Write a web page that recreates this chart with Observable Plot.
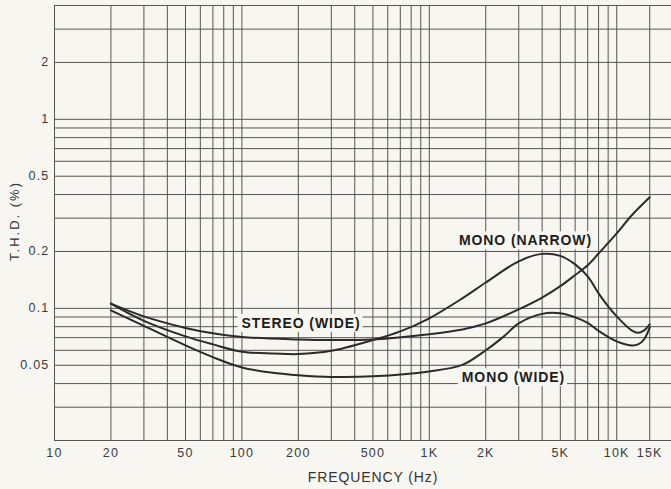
<!DOCTYPE html>
<html>
<head>
<meta charset="utf-8">
<script src="https://cdn.jsdelivr.net/npm/d3@7"></script>
<script src="https://cdn.jsdelivr.net/npm/@observablehq/plot@0.6"></script>
<style>
  html, body { margin: 0; padding: 0; background: #f8f6f1; }
</style>
</head>
<body>
<div id="chart"></div>
<script>
// Tick labels
const freqTicks = [10, 20, 50, 100, 200, 500, 1000, 2000, 5000, 10000, 15000];
const freqTickLabels = ["10", "20", "50", "100", "200", "500", "1K", "2K", "5K", "10K", "15K"];
const thdTicks = [0.05, 0.1, 0.2, 0.5, 1, 2];
const thdTickLabels = ["0.05", "0.1", "0.2", "0.5", "1", "2"];

// Graph-paper grid lines
const freqGrid = [10, 20, 30, 40, 50, 60, 70, 80, 90, 100, 200, 300, 400, 500, 600, 700, 800, 900, 1000,
  2000, 3000, 4000, 5000, 6000, 7000, 8000, 9000, 10000, 15000];
const thdGrid = [0.02, 0.03, 0.04, 0.05, 0.06, 0.07, 0.08, 0.09, 0.1, 0.2, 0.3, 0.4, 0.5, 0.6, 0.7, 0.8, 0.9, 1, 2, 3, 4];

// Series: STEREO (WIDE)
const stereoFreq = [20, 30, 50, 70, 100, 200, 300, 500, 1000, 1500, 2000, 3000, 4000, 5000, 6000, 7000, 8000, 10000, 12000, 15000];
const stereoThd = [0.106, 0.0907, 0.0788, 0.0738, 0.0705, 0.0685, 0.068, 0.0685, 0.073, 0.0774, 0.0833, 0.0988, 0.114, 0.131, 0.150, 0.169, 0.195, 0.249, 0.31, 0.387];

// Series: MONO (NARROW)
const narrowFreq = [20, 30, 50, 70, 100, 150, 200, 300, 500, 700, 1000, 1500, 2000, 3000, 4000, 5000, 6000, 7000, 8000, 9000, 10000, 12000, 13000, 14000, 15000];
const narrowThd = [0.106, 0.0859, 0.0711, 0.0645, 0.059, 0.0577, 0.0573, 0.0596, 0.068, 0.0755, 0.0886, 0.113, 0.137, 0.1773, 0.1942, 0.1896, 0.1709, 0.1477, 0.1201, 0.1025, 0.0907, 0.0765, 0.0742, 0.0765, 0.0823];

// Series: MONO (WIDE)
const wideFreq = [20, 30, 50, 70, 100, 150, 200, 300, 500, 1000, 1500, 2000, 2500, 3000, 4000, 5000, 6000, 7000, 8000, 10000, 12000, 13000, 14000, 15000];
const wideThd = [0.0976, 0.0808, 0.0637, 0.0552, 0.0487, 0.0455, 0.0443, 0.0434, 0.0437, 0.0464, 0.0502, 0.06, 0.0711, 0.0833, 0.0935, 0.0941, 0.0896, 0.0838, 0.076, 0.0669, 0.0637, 0.0645, 0.0686, 0.0793];

// Curve annotations
const labelNames = ["MONO (NARROW)", "STEREO (WIDE)", "MONO (WIDE)"];
const labelFreq = [3260, 207, 2810];
const labelThd = [0.2276, 0.0833, 0.0429];

const xLabel = "FREQUENCY (Hz)";
const yLabel = "T.H.D. (%)";

const toRows = (fs, vs) => fs.map((f, i) => ({f, v: vs[i]}));
const series = [toRows(stereoFreq, stereoThd), toRows(narrowFreq, narrowThd), toRows(wideFreq, wideThd)];
const labels = labelNames.map((t, i) => ({t, f: labelFreq[i], v: labelThd[i]}));
const xTickRows = freqTicks.map((f, i) => ({f, t: freqTickLabels[i]}));
const yTickRows = thdTicks.map((v, i) => ({v, t: thdTickLabels[i]}));

const bg = "#f8f6f1";
const ink = "#2b2b2b";
const font = "'Liberation Sans', Arial, Helvetica, sans-serif";

const chart = Plot.plot({
  width: 671,
  height: 489,
  marginLeft: 54,
  marginRight: 0,
  marginTop: 5,
  marginBottom: 49,
  style: {background: bg, fontFamily: font, fontSize: "12px", color: "#3a3a3a"},
  x: {type: "log", domain: [10, 19600], axis: null},
  y: {type: "log", domain: [0.02, 4], axis: null},
  marks: [
    Plot.ruleX(freqGrid, {stroke: "#555", strokeWidth: 1}),
    Plot.ruleY(thdGrid, {stroke: "#555", strokeWidth: 1}),
    ...series.map((s) => Plot.line(s, {x: "f", y: "v", curve: "catmull-rom", stroke: ink, strokeWidth: 2})),
    Plot.text(labels, {x: "f", y: "v", text: "t", fontSize: 14, fontWeight: "bold", fill: "#1c1c1c", textAnchor: "middle", lineAnchor: "middle"}),
    Plot.text(xTickRows, {x: "f", text: "t", frameAnchor: "bottom", textAnchor: "middle", lineAnchor: "middle", dy: 12, fontSize: 12.5, fill: "#3a3a3a"}),
    Plot.text(yTickRows, {y: "v", text: "t", frameAnchor: "left", textAnchor: "end", lineAnchor: "middle", dx: -5, fontSize: 12.5, fill: "#3a3a3a"}),
    Plot.text([xLabel], {frameAnchor: "bottom", textAnchor: "middle", lineAnchor: "middle", dx: 10, dy: 37, fontSize: 14, fill: "#333"}),
    Plot.text([yLabel], {frameAnchor: "left", textAnchor: "middle", lineAnchor: "middle", rotate: -90, dx: -40, dy: -2, fontSize: 13, fill: "#333"})
  ]
});

document.getElementById("chart").appendChild(chart);

// letter spacing to match the wide lettering of the original; paper-coloured boxes behind curve labels
d3.select(chart).selectAll("text").each(function () {
  const s = this.textContent;
  let ls = 0;
  if (labelNames.includes(s)) ls = 0.9;
  else if (s === xLabel) ls = 0.9;
  else if (s === yLabel) ls = 2;
  else if (freqTickLabels.includes(s) || thdTickLabels.includes(s)) ls = 1.2;
  if (ls) this.setAttribute("letter-spacing", ls);
  if (labelNames.includes(s)) {
    const b = this.getBBox();
    const r = document.createElementNS("http://www.w3.org/2000/svg", "rect");
    r.setAttribute("x", b.x - 4);
    r.setAttribute("y", b.y - 1);
    r.setAttribute("width", b.width + 6);
    r.setAttribute("height", b.height + 2);
    r.setAttribute("fill", bg);
    const tr = this.getAttribute("transform");
    if (tr) r.setAttribute("transform", tr);
    this.parentNode.insertBefore(r, this);
  }
});
</script>
</body>
</html>
